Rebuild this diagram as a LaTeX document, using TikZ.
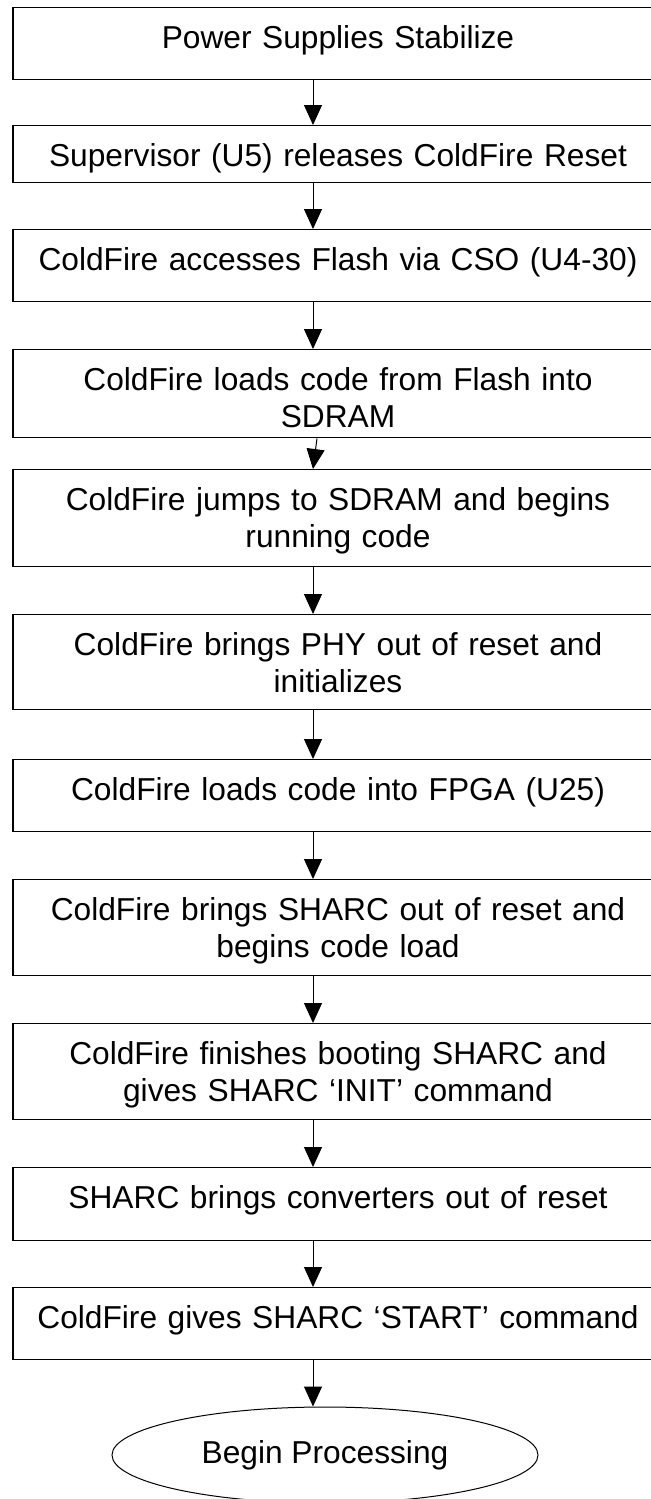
\documentclass[tikz,border=0pt]{standalone}
\usepackage{fontspec}
\setmainfont{Liberation Sans}
\usetikzlibrary{shapes.geometric,arrows.meta}

\tikzset{
  stepbox/.style={draw, line width=0.7pt, rectangle, anchor=north, inner sep=0pt,
    text width=325pt, align=center, text height=20.5pt},
  endbox/.style={draw, line width=0.5pt, ellipse, inner sep=0pt,
    minimum width=213pt, minimum height=48pt},
  flowarrow/.style={-{Triangle[width=9pt,length=10pt]}, line width=0.5pt}
}

\begin{document}
\begin{tikzpicture}[x=0.5pt,y=0.5pt,yscale=-1,xscale=1,font=\fontsize{15.85pt}{18.2pt}\selectfont]
    %set diagram to 651 x 1499
    \useasboundingbox (0,0) rectangle (651,1499);
    \fill[white] (0,0) rectangle (651,1499);
    \coordinate (ax) at (313,0);

    %Shape: Rectangle [step boxes]
    \node[stepbox, text depth=15.5pt] (b1) at (338,7) {Power Supplies Stabilize};
    \node[stepbox, text depth=8pt] (b2) at (338,125) {Supervisor (U5) releases ColdFire Reset};
    \node[stepbox, text depth=15.5pt] (b3) at (338,229) {ColdFire accesses Flash via CSO (U4-30)};
    \node[stepbox, text depth=23.5pt] (b4) at (338,349) {ColdFire loads code from Flash into\\SDRAM};
    \node[stepbox, text depth=28pt] (b5) at (338,469) {ColdFire jumps to SDRAM and begins\\running code};
    \node[stepbox, text depth=27pt] (b6) at (338,614) {ColdFire brings PHY out of reset and\\initializes};
    \node[stepbox, text depth=15.5pt] (b7) at (338,759) {ColdFire loads code into FPGA (U25)};
    \node[stepbox, text depth=27.5pt] (b8) at (338,879) {ColdFire brings SHARC out of reset and\\begins code load};
    \node[stepbox, text depth=27.5pt] (b9) at (338,1023) {ColdFire finishes booting SHARC and\\gives SHARC ‘INIT’ command};
    \node[stepbox, text depth=16pt] (b10) at (338,1167) {SHARC brings converters out of reset};
    \node[stepbox, text depth=15.5pt] (b11) at (338,1287) {ColdFire gives SHARC ‘START’ command};

    %Flowchart: Terminator
    \node[endbox] (done) at (325,1455) {Begin Processing};

    %Arrows
    \draw[flowarrow] (b1.south -| ax) -- (b2.north -| ax);
    \draw[flowarrow] (b2.south -| ax) -- (b3.north -| ax);
    \draw[flowarrow] (b3.south -| ax) -- (b4.north -| ax);
    \draw[flowarrow] ([xshift=2pt]b4.south -| ax) -- (b5.north -| ax);
    \draw[flowarrow] (b5.south -| ax) -- (b6.north -| ax);
    \draw[flowarrow] (b6.south -| ax) -- (b7.north -| ax);
    \draw[flowarrow] (b7.south -| ax) -- (b8.north -| ax);
    \draw[flowarrow] (b8.south -| ax) -- (b9.north -| ax);
    \draw[flowarrow] (b9.south -| ax) -- (b10.north -| ax);
    \draw[flowarrow] (b10.south -| ax) -- (b11.north -| ax);
    \draw[flowarrow] (b11.south -| ax) -- (done.north -| ax);

\end{tikzpicture}
\end{document}
